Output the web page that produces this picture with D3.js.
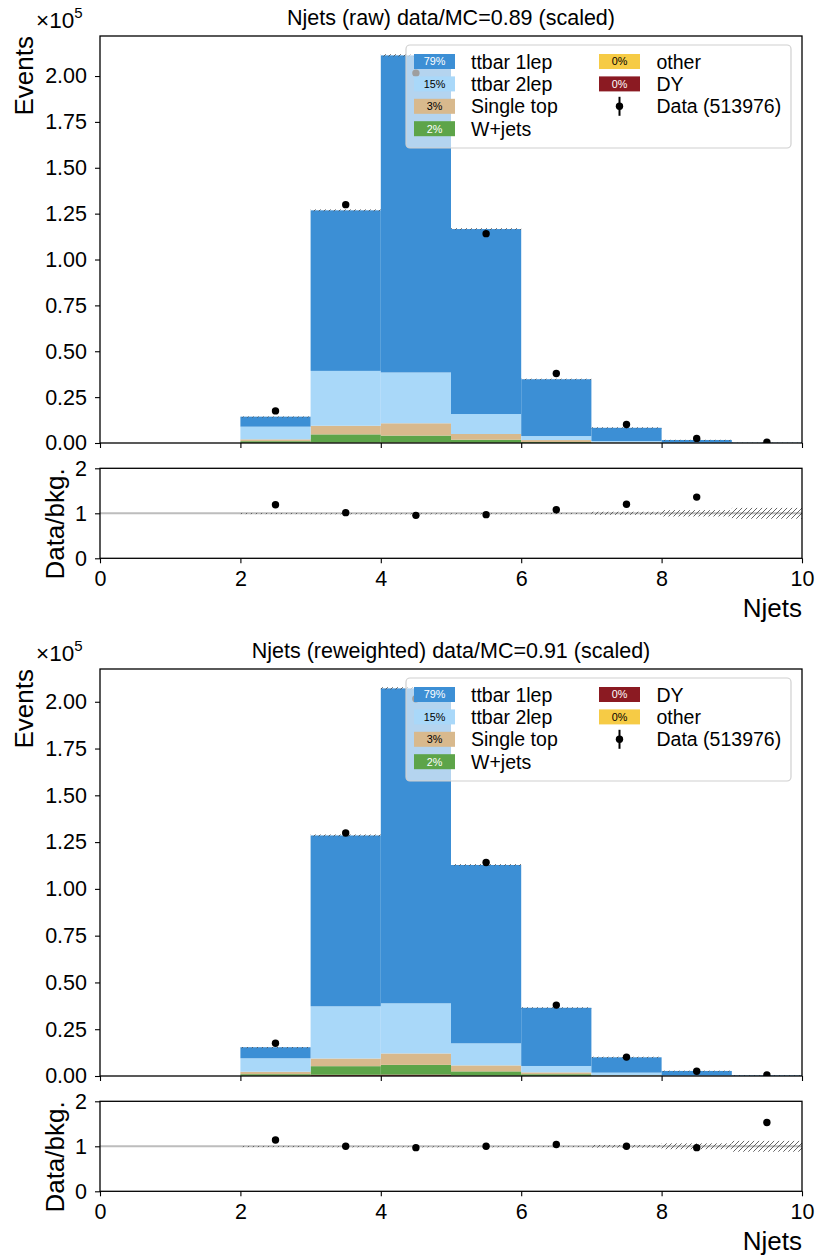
<!DOCTYPE html>
<html>
<head>
<meta charset="utf-8">
<script src="https://cdn.jsdelivr.net/npm/d3@7"></script>
<style>
  html, body { margin: 0; padding: 0; background: #fff; }
  svg { display: block; font-family: "Liberation Sans", Arial, Helvetica, sans-serif; }
</style>
</head>
<body>
<svg id="chart" width="817" height="1258"></svg>
<script>
// ---------------- DATA ----------------
const binLow = [2, 3, 4, 5, 6, 7, 8, 9];           // Njets bins [n, n+1)
const xTicks = [0, 2, 4, 6, 8, 10];
const yTicksMain = [0, 0.25, 0.5, 0.75, 1.0, 1.25, 1.5, 1.75, 2.0]; // x 1e5
const yTicksRatio = [0, 1, 2];

const dataCounts = [17500, 129900, 201600, 114100, 37900, 10100, 2500, 500];
const dataLabel = "Data (513976)";

// raw
const raw_ttbar1lep = [5450, 87500, 172800, 100800, 30960, 7190, 1450, 150];
const raw_ttbar2lep = [6900, 29900, 27700, 10900, 2200, 800, 150, 10];
const raw_singletop = [1000, 4700, 6700, 3100, 1100, 200, 30, 0];
const raw_wjets     = [950, 4500, 3800, 1700, 480, 90, 15, 0];
const raw_other     = [30, 120, 150, 60, 15, 5, 0, 0];
const raw_dy        = [20, 80, 100, 40, 10, 0, 0, 0];
const raw_ratio     = [1.19, 1.015, 0.955, 0.97, 1.08, 1.2, 1.36, null];
const raw_relUnc    = [0.008, 0.004, 0.003, 0.004, 0.008, 0.035, 0.07, 0.12];
const raw_legend    = ["ttbar 1lep", "ttbar 2lep", "Single top", "W+jets", "other", "DY"];
const raw_pct       = ["79%", "15%", "3%", "2%", "0%", "0%"];
const raw_title     = "Njets (raw) data/MC=0.89 (scaled)";

// reweighted
const rw_ttbar1lep = [5900, 91300, 168300, 95300, 31100, 8200, 2400, 300];
const rw_ttbar2lep = [7200, 27900, 26800, 11800, 3400, 1400, 250, 30];
const rw_singletop = [1300, 4100, 6100, 3200, 1000, 250, 30, 0];
const rw_wjets     = [850, 4600, 5200, 2250, 900, 140, 18, 0];
const rw_dy        = [100, 500, 600, 160, 40, 5, 0, 0];
const rw_other     = [30, 150, 150, 60, 15, 0, 0, 0];
const rw_ratio     = [1.14, 1.0, 0.97, 1.0, 1.04, 1.0, 0.97, 1.53];
const rw_relUnc    = [0.008, 0.004, 0.003, 0.004, 0.008, 0.03, 0.065, 0.12];
const rw_legend    = ["ttbar 1lep", "ttbar 2lep", "Single top", "W+jets", "DY", "other"];
const rw_pct       = ["79%", "15%", "3%", "2%", "0%", "0%"];
const rw_title     = "Njets (reweighted) data/MC=0.91 (scaled)";

const colors = {
  "ttbar 1lep": "#3c8fd5",
  "ttbar 2lep": "#a9d8f9",
  "Single top": "#d8b98d",
  "W+jets": "#5da449",
  "other": "#f6cb45",
  "DY": "#8b1a22"
};
const pctTextColor = {
  "ttbar 1lep": "#fff", "ttbar 2lep": "#000", "Single top": "#000",
  "W+jets": "#fff", "other": "#000", "DY": "#fff"
};

// ---------------- DRAW ----------------
const svg = d3.select("#chart");
const defs = svg.append("defs");
const pat = defs.append("pattern").attr("id", "hatch")
  .attr("patternUnits", "userSpaceOnUse").attr("width", 5).attr("height", 5);
pat.append("path").attr("d", "M-1,1 L1,-1 M0,5 L5,0 M4,6 L6,4")
  .attr("stroke", "#555").attr("stroke-width", 0.9).attr("fill", "none");

const x = d3.scaleLinear().domain([0, 10]).range([100, 802]);
const TICK_FONT = 21.5, LABEL_FONT = 26, TITLE_FONT = 21.5, LEG_FONT = 19.5;

function drawPanel(off, cfg) {
  const mainTop = 36 + off, mainBot = 443 + off;
  const rTop = 468.3 + off, rBot = 558.3 + off;

  const seriesMap = cfg.series;
  const stackKeys = cfg.legend.slice().reverse();   // smallest at bottom
  const rows = binLow.map((b, i) => {
    const r = { bin: b };
    stackKeys.forEach(k => r[k] = seriesMap[k][i]);
    return r;
  });
  const stacked = d3.stack().keys(stackKeys)(rows);
  const totals = rows.map(r => d3.sum(stackKeys, k => r[k]));
  const y = d3.scaleLinear().domain([0, 1.05 * d3.max(totals)]).range([mainBot, mainTop]);
  const yr = d3.scaleLinear().domain([0, 2]).range([rBot, rTop]);

  const clipId = "clipm" + off, clipR = "clipr" + off;
  defs.append("clipPath").attr("id", clipId).append("rect")
    .attr("x", 100).attr("y", mainTop).attr("width", 702).attr("height", mainBot - mainTop);
  defs.append("clipPath").attr("id", clipR).append("rect")
    .attr("x", 100).attr("y", rTop).attr("width", 702).attr("height", rBot - rTop);

  const gm = svg.append("g").attr("clip-path", `url(#${clipId})`);
  // stacked bars
  stacked.forEach(layer => {
    gm.append("g").selectAll("rect").data(layer).join("rect")
      .attr("x", d => x(d.data.bin))
      .attr("width", d => x(d.data.bin + 1) - x(d.data.bin))
      .attr("y", d => y(d[1]))
      .attr("height", d => Math.max(0, y(d[0]) - y(d[1])))
      .attr("fill", colors[layer.key]);
  });
  // MC stat band
  gm.append("g").selectAll("rect").data(binLow).join("rect")
    .attr("x", (b) => x(b))
    .attr("width", b => x(b + 1) - x(b))
    .attr("y", (b, i) => y(totals[i] * (1 + cfg.unc[i])))
    .attr("height", (b, i) => Math.max(1.2, y(totals[i] * (1 - cfg.unc[i])) - y(totals[i] * (1 + cfg.unc[i]))))
    .attr("fill", "url(#hatch)");
  // data points
  gm.append("g").selectAll("circle").data(binLow).join("circle")
    .attr("cx", b => x(b + 0.5))
    .attr("cy", (b, i) => y(dataCounts[i]))
    .attr("r", 3.7).attr("fill", "#000");

  // ratio panel
  const gr = svg.append("g").attr("clip-path", `url(#${clipR})`);
  gr.append("line").attr("x1", x(0)).attr("x2", x(10))
    .attr("y1", yr(1)).attr("y2", yr(1))
    .attr("stroke", "#bdbdbd").attr("stroke-width", 2);
  gr.append("g").selectAll("rect").data(binLow).join("rect")
    .attr("x", b => x(b))
    .attr("width", b => x(b + 1) - x(b))
    .attr("y", (b, i) => yr(1 + cfg.unc[i]))
    .attr("height", (b, i) => Math.max(1.2, yr(1 - cfg.unc[i]) - yr(1 + cfg.unc[i])))
    .attr("fill", "url(#hatch)");
  gr.append("g").selectAll("circle")
    .data(binLow.map((b, i) => ({ b, r: cfg.ratio[i] })).filter(d => d.r != null))
    .join("circle")
    .attr("cx", d => x(d.b + 0.5)).attr("cy", d => yr(d.r))
    .attr("r", 3.7).attr("fill", "#000");

  // axes
  function styleAxis(g) {
    g.select(".domain").remove();
    g.selectAll(".tick line").attr("stroke", "#000").attr("stroke-width", 1.1);
    g.selectAll(".tick text").attr("font-size", TICK_FONT).attr("fill", "#000")
      .attr("font-family", '"Liberation Sans", Arial, sans-serif');
  }
  svg.append("g").attr("transform", `translate(100,0)`)
    .call(d3.axisLeft(y).tickValues(yTicksMain.map(v => v * 1e5)).tickSize(5).tickPadding(8)
      .tickFormat(v => (v / 1e5).toFixed(2)))
    .call(styleAxis);
  svg.append("g").attr("transform", `translate(0,${mainBot})`)
    .call(d3.axisBottom(x).tickValues(xTicks).tickSize(5).tickFormat(""))
    .call(styleAxis);
  svg.append("g").attr("transform", `translate(100,0)`)
    .call(d3.axisLeft(yr).tickValues(yTicksRatio).tickSize(5).tickPadding(8).tickFormat(d3.format("d")))
    .call(styleAxis);
  svg.append("g").attr("transform", `translate(0,${rBot})`)
    .call(d3.axisBottom(x).tickValues(xTicks).tickSize(5).tickPadding(7).tickFormat(d3.format("d")))
    .call(styleAxis);

  // frames
  [[mainTop, mainBot], [rTop, rBot]].forEach(([t, b]) => {
    svg.append("rect").attr("x", 100).attr("y", t).attr("width", 702).attr("height", b - t)
      .attr("fill", "none").attr("stroke", "#000").attr("stroke-width", 1.3);
  });

  // title
  svg.append("text").attr("x", 451).attr("y", 25 + off).attr("text-anchor", "middle")
    .attr("font-size", TITLE_FONT).text(cfg.title);
  // x10^5
  const ex = svg.append("text").attr("x", 36).attr("y", 28 + off).attr("font-size", 22.5);
  ex.append("tspan").text("×10");
  ex.append("tspan").attr("font-size", 15).attr("dy", -10).text("5");
  // y labels
  svg.append("text").attr("transform", `translate(33,${mainTop}) rotate(-90)`)
    .attr("text-anchor", "end").attr("font-size", LABEL_FONT).text("Events");
  svg.append("text").attr("transform", `translate(64,${rTop}) rotate(-90)`)
    .attr("text-anchor", "end").attr("font-size", LABEL_FONT).text("Data/bkg.");
  // x label
  svg.append("text").attr("x", 802).attr("y", 617 + off).attr("text-anchor", "end")
    .attr("font-size", LABEL_FONT).text("Njets");

  // legend
  const lg = svg.append("g");
  const lx = 406, ly = 45 + off, lw = 385, lh = 103;
  lg.append("rect").attr("x", lx).attr("y", ly).attr("width", lw).attr("height", lh)
    .attr("rx", 4).attr("fill", "#fff").attr("fill-opacity", 0.62)
    .attr("stroke", "#d0d0d0").attr("stroke-width", 1.2);
  const rowY = i => ly + 16.5 + i * 22.4;
  const entries = cfg.legend.map((name, i) => ({ name, pct: cfg.pct[i] }));
  entries.forEach((e, i) => {
    const col = i < 4 ? 0 : 1;
    const row = i < 4 ? i : i - 4;
    const sx = col === 0 ? 414 : 599;
    const tx = col === 0 ? 471 : 656.5;
    const cy = rowY(row);
    lg.append("rect").attr("x", sx).attr("y", cy - 7.5).attr("width", 41).attr("height", 15)
      .attr("fill", colors[e.name]);
    lg.append("text").attr("x", sx + 20.5).attr("y", cy).attr("dy", "0.36em")
      .attr("text-anchor", "middle").attr("font-size", 10.8)
      .attr("fill", pctTextColor[e.name]).text(e.pct);
    lg.append("text").attr("x", tx).attr("y", cy).attr("dy", "0.36em")
      .attr("font-size", LEG_FONT).text(e.name);
  });
  // data entry
  const dcy = rowY(2);
  lg.append("line").attr("x1", 619.5).attr("x2", 619.5).attr("y1", dcy - 9.5).attr("y2", dcy + 9.5)
    .attr("stroke", "#000").attr("stroke-width", 2);
  lg.append("circle").attr("cx", 619.5).attr("cy", dcy).attr("r", 3.7).attr("fill", "#000");
  lg.append("text").attr("x", 656.5).attr("y", dcy).attr("dy", "0.36em")
    .attr("font-size", LEG_FONT).text(dataLabel);
}

drawPanel(0, {
  title: raw_title,
  legend: raw_legend,
  pct: raw_pct,
  series: {
    "ttbar 1lep": raw_ttbar1lep, "ttbar 2lep": raw_ttbar2lep, "Single top": raw_singletop,
    "W+jets": raw_wjets, "other": raw_other, "DY": raw_dy
  },
  ratio: raw_ratio,
  unc: raw_relUnc
});
drawPanel(633, {
  title: rw_title,
  legend: rw_legend,
  pct: rw_pct,
  series: {
    "ttbar 1lep": rw_ttbar1lep, "ttbar 2lep": rw_ttbar2lep, "Single top": rw_singletop,
    "W+jets": rw_wjets, "other": rw_other, "DY": rw_dy
  },
  ratio: rw_ratio,
  unc: rw_relUnc
});
</script>
</body>
</html>
